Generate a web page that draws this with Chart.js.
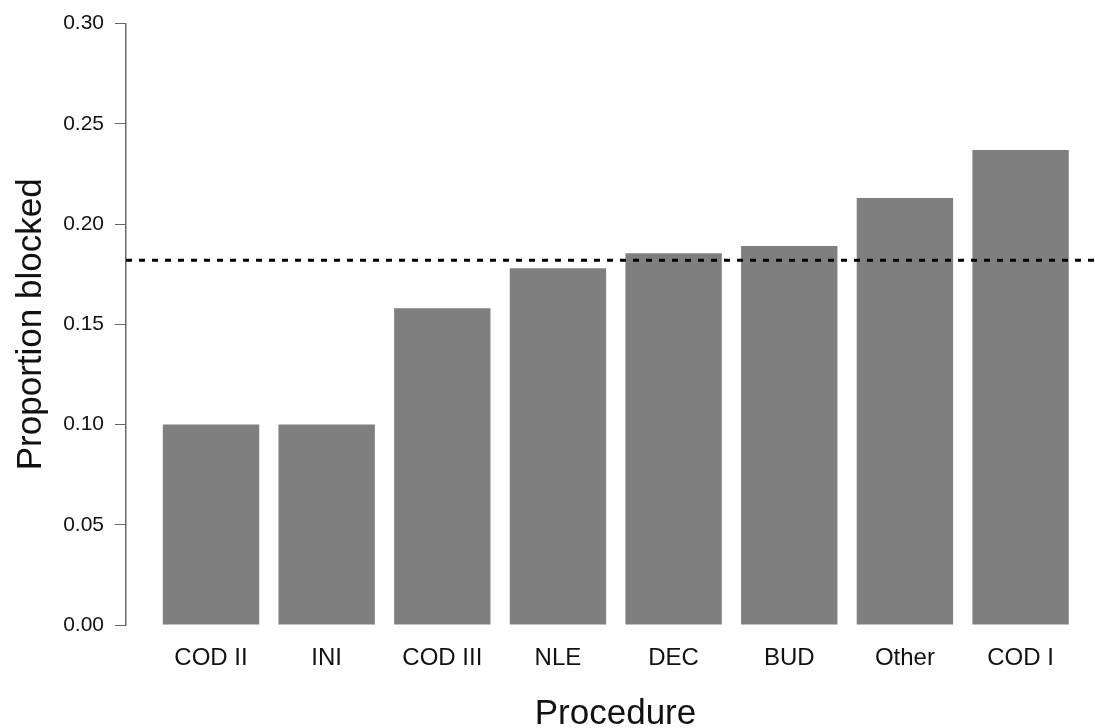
<!DOCTYPE html>
<html>
<head>
<meta charset="utf-8">
<script src="https://cdn.jsdelivr.net/npm/chart.js@4"></script>
<style>
  html, body { margin: 0; padding: 0; background: #fff; overflow: hidden; }
  canvas { display: block; }
</style>
</head>
<body>
<canvas id="myChart" width="1105" height="728"></canvas>
<script>
var procedures = ["COD II", "INI", "COD III", "NLE", "DEC", "BUD", "Other", "COD I"];
var proportionBlocked = [0.100, 0.100, 0.158, 0.178, 0.1855, 0.189, 0.213, 0.237];
var overallRate = 0.182;
var yTickValues = [0, 0.05, 0.10, 0.15, 0.20, 0.25, 0.30];

// x range in category units (R barplot leaves extra room at the ends,
// the plot region runs a little past the right edge of the picture)
var xMin = -0.735;
var xMax = 7.73;

var barPoints = proportionBlocked.map(function (v, i) { return {x: i, y: v}; });
var refPoints = [{x: xMin, y: overallRate}, {x: xMax, y: overallRate}];

Chart.defaults.font.family = "'Liberation Sans', Arial, Helvetica, sans-serif";
Chart.defaults.color = "#111";

new Chart("myChart", {
  type: "bar",
  data: {
    datasets: [{
      type: "line",
      data: refPoints,
      borderColor: "#000",
      borderWidth: 3,
      borderDash: [6, 7],
      borderCapStyle: "butt",
      pointRadius: 0,
      fill: false,
      order: 0
    }, {
      data: barPoints,
      backgroundColor: "#7f7f7f",
      borderWidth: 0,
      categoryPercentage: 1.0,
      barPercentage: 0.8333,
      order: 1
    }]
  },
  options: {
    responsive: false,
    animation: false,
    layout: {padding: {top: 20, right: 0, left: 0, bottom: 0}},
    plugins: {
      legend: {display: false},
      tooltip: {enabled: false}
    },
    scales: {
      x: {
        type: "linear",
        offset: false,
        min: xMin,
        max: xMax,
        grid: {display: false, drawTicks: false},
        border: {display: false},
        ticks: {
          stepSize: 1,
          includeBounds: false,
          autoSkip: false,
          maxRotation: 0,
          padding: 19,
          font: {size: 24},
          color: "#111",
          callback: function (v) {
            return Number.isInteger(v) ? procedures[v] : "";
          }
        },
        title: {
          display: true,
          text: "Procedure",
          font: {size: 35},
          color: "#111",
          padding: {top: 0, bottom: -7}
        },
        afterFit: function (scale) { scale.height = 103; }
      },
      y: {
        min: 0,
        max: 0.3,
        grid: {drawOnChartArea: false, drawTicks: true, tickLength: 11, color: "#666"},
        border: {display: true, color: "#666", width: 1.5},
        afterBuildTicks: function (scale) {
          scale.ticks = yTickValues.map(function (v) { return {value: v}; });
        },
        ticks: {
          padding: 11,
          font: {size: 21},
          color: "#111",
          callback: function (v) { return v.toFixed(2); }
        },
        title: {
          display: true,
          text: "Proportion blocked",
          font: {size: 35},
          color: "#111",
          padding: {top: 10, bottom: 0}
        },
        afterFit: function (scale) { scale.width = 126; }
      }
    }
  }
});
</script>
</body>
</html>
